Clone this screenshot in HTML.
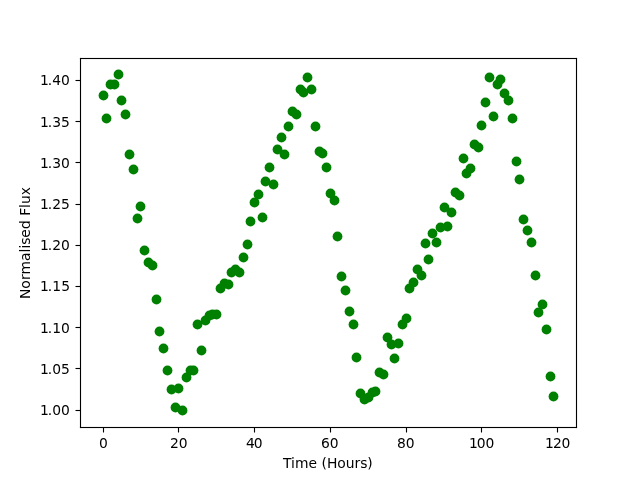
<!DOCTYPE html>
<html lang="en"><head><meta charset="utf-8"><title>Normalised Flux vs Time</title>
<style>
html,body{margin:0;padding:0;background:#fff;}
body{width:640px;height:480px;overflow:hidden;}
svg{display:block;}
text{font-family:"DejaVu Sans","Liberation Sans",sans-serif;font-size:13.889px;fill:#000;white-space:pre;}
</style></head>
<body>
<svg width="640" height="480" viewBox="0 0 640 480">
<rect x="0" y="0" width="640" height="480" fill="#ffffff"/>
<!-- data points -->
<g fill="#008000" stroke="none">
<circle cx="103.5" cy="95.5" r="4.9"/>
<circle cx="106.5" cy="118.5" r="4.9"/>
<circle cx="110.5" cy="84.5" r="4.9"/>
<circle cx="114.5" cy="84.5" r="4.9"/>
<circle cx="118.5" cy="74.5" r="4.9"/>
<circle cx="121.5" cy="100.5" r="4.9"/>
<circle cx="125.5" cy="114.5" r="4.9"/>
<circle cx="129.5" cy="154.5" r="4.9"/>
<circle cx="133.5" cy="169.5" r="4.9"/>
<circle cx="137.5" cy="218.5" r="4.9"/>
<circle cx="140.5" cy="206.5" r="4.9"/>
<circle cx="144.5" cy="250.5" r="4.9"/>
<circle cx="148.5" cy="262.5" r="4.9"/>
<circle cx="152.5" cy="265.5" r="4.9"/>
<circle cx="156.5" cy="299.5" r="4.9"/>
<circle cx="159.5" cy="331.5" r="4.9"/>
<circle cx="163.5" cy="348.5" r="4.9"/>
<circle cx="167.5" cy="370.5" r="4.9"/>
<circle cx="171.5" cy="389.5" r="4.9"/>
<circle cx="175.5" cy="407.5" r="4.9"/>
<circle cx="178.5" cy="388.5" r="4.9"/>
<circle cx="182.5" cy="410.5" r="4.9"/>
<circle cx="186.5" cy="377.5" r="4.9"/>
<circle cx="190.5" cy="370.5" r="4.9"/>
<circle cx="193.5" cy="370.5" r="4.9"/>
<circle cx="197.5" cy="324.5" r="4.9"/>
<circle cx="201.5" cy="350.5" r="4.9"/>
<circle cx="205.5" cy="320.5" r="4.9"/>
<circle cx="209.5" cy="315.5" r="4.9"/>
<circle cx="212.5" cy="314.5" r="4.9"/>
<circle cx="216.5" cy="314.5" r="4.9"/>
<circle cx="220.5" cy="288.5" r="4.9"/>
<circle cx="224.5" cy="283.5" r="4.9"/>
<circle cx="228.5" cy="284.5" r="4.9"/>
<circle cx="231.5" cy="272.5" r="4.9"/>
<circle cx="235.5" cy="269.5" r="4.9"/>
<circle cx="239.5" cy="272.5" r="4.9"/>
<circle cx="243.5" cy="257.5" r="4.9"/>
<circle cx="247.5" cy="244.5" r="4.9"/>
<circle cx="250.5" cy="221.5" r="4.9"/>
<circle cx="254.5" cy="202.5" r="4.9"/>
<circle cx="258.5" cy="194.5" r="4.9"/>
<circle cx="262.5" cy="217.5" r="4.9"/>
<circle cx="265.5" cy="181.5" r="4.9"/>
<circle cx="269.5" cy="167.5" r="4.9"/>
<circle cx="273.5" cy="184.5" r="4.9"/>
<circle cx="277.5" cy="149.5" r="4.9"/>
<circle cx="281.5" cy="137.5" r="4.9"/>
<circle cx="284.5" cy="154.5" r="4.9"/>
<circle cx="288.5" cy="126.5" r="4.9"/>
<circle cx="292.5" cy="111.5" r="4.9"/>
<circle cx="296.5" cy="114.5" r="4.9"/>
<circle cx="300.5" cy="89.5" r="4.9"/>
<circle cx="303.5" cy="92.5" r="4.9"/>
<circle cx="307.5" cy="77.5" r="4.9"/>
<circle cx="311.5" cy="89.5" r="4.9"/>
<circle cx="315.5" cy="126.5" r="4.9"/>
<circle cx="319.5" cy="151.5" r="4.9"/>
<circle cx="322.5" cy="153.5" r="4.9"/>
<circle cx="326.5" cy="167.5" r="4.9"/>
<circle cx="330.5" cy="193.5" r="4.9"/>
<circle cx="334.5" cy="200.5" r="4.9"/>
<circle cx="337.5" cy="236.5" r="4.9"/>
<circle cx="341.5" cy="276.5" r="4.9"/>
<circle cx="345.5" cy="290.5" r="4.9"/>
<circle cx="349.5" cy="311.5" r="4.9"/>
<circle cx="353.5" cy="324.5" r="4.9"/>
<circle cx="356.5" cy="357.5" r="4.9"/>
<circle cx="360.5" cy="393.5" r="4.9"/>
<circle cx="364.5" cy="399.5" r="4.9"/>
<circle cx="368.5" cy="397.5" r="4.9"/>
<circle cx="372.5" cy="392.5" r="4.9"/>
<circle cx="375.5" cy="391.5" r="4.9"/>
<circle cx="379.5" cy="372.5" r="4.9"/>
<circle cx="383.5" cy="374.5" r="4.9"/>
<circle cx="387.5" cy="337.5" r="4.9"/>
<circle cx="391.5" cy="344.5" r="4.9"/>
<circle cx="394.5" cy="358.5" r="4.9"/>
<circle cx="398.5" cy="343.5" r="4.9"/>
<circle cx="402.5" cy="324.5" r="4.9"/>
<circle cx="406.5" cy="318.5" r="4.9"/>
<circle cx="409.5" cy="288.5" r="4.9"/>
<circle cx="413.5" cy="282.5" r="4.9"/>
<circle cx="417.5" cy="269.5" r="4.9"/>
<circle cx="421.5" cy="275.5" r="4.9"/>
<circle cx="425.5" cy="243.5" r="4.9"/>
<circle cx="428.5" cy="259.5" r="4.9"/>
<circle cx="432.5" cy="233.5" r="4.9"/>
<circle cx="436.5" cy="242.5" r="4.9"/>
<circle cx="440.5" cy="227.5" r="4.9"/>
<circle cx="444.5" cy="207.5" r="4.9"/>
<circle cx="447.5" cy="226.5" r="4.9"/>
<circle cx="451.5" cy="212.5" r="4.9"/>
<circle cx="455.5" cy="192.5" r="4.9"/>
<circle cx="459.5" cy="195.5" r="4.9"/>
<circle cx="463.5" cy="158.5" r="4.9"/>
<circle cx="466.5" cy="173.5" r="4.9"/>
<circle cx="470.5" cy="168.5" r="4.9"/>
<circle cx="474.5" cy="144.5" r="4.9"/>
<circle cx="478.5" cy="147.5" r="4.9"/>
<circle cx="481.5" cy="125.5" r="4.9"/>
<circle cx="485.5" cy="102.5" r="4.9"/>
<circle cx="489.5" cy="77.5" r="4.9"/>
<circle cx="493.5" cy="116.5" r="4.9"/>
<circle cx="497.5" cy="84.5" r="4.9"/>
<circle cx="500.5" cy="79.5" r="4.9"/>
<circle cx="504.5" cy="93.5" r="4.9"/>
<circle cx="508.5" cy="100.5" r="4.9"/>
<circle cx="512.5" cy="118.5" r="4.9"/>
<circle cx="516.5" cy="161.5" r="4.9"/>
<circle cx="519.5" cy="179.5" r="4.9"/>
<circle cx="523.5" cy="219.5" r="4.9"/>
<circle cx="527.5" cy="230.5" r="4.9"/>
<circle cx="531.5" cy="242.5" r="4.9"/>
<circle cx="535.5" cy="275.5" r="4.9"/>
<circle cx="538.5" cy="312.5" r="4.9"/>
<circle cx="542.5" cy="304.5" r="4.9"/>
<circle cx="546.5" cy="329.5" r="4.9"/>
<circle cx="550.5" cy="376.5" r="4.9"/>
<circle cx="553.5" cy="396.5" r="4.9"/>
</g>
<!-- axes frame -->
<g fill="#000" stroke="none">
<rect x="79.9445" y="57.9445" width="1.111" height="370.1110"/>
<rect x="575.9445" y="57.9445" width="1.111" height="370.1110"/>
<rect x="79.9445" y="57.9445" width="497.1110" height="1.111"/>
<rect x="79.9445" y="426.9445" width="497.1110" height="1.111"/>
</g>
<!-- ticks -->
<g stroke="#000" stroke-width="1.111" fill="none">
<line x1="103.5" y1="427.5" x2="103.5" y2="432.5"/>
<line x1="178.5" y1="427.5" x2="178.5" y2="432.5"/>
<line x1="254.5" y1="427.5" x2="254.5" y2="432.5"/>
<line x1="330.5" y1="427.5" x2="330.5" y2="432.5"/>
<line x1="406.5" y1="427.5" x2="406.5" y2="432.5"/>
<line x1="481.5" y1="427.5" x2="481.5" y2="432.5"/>
<line x1="557.5" y1="427.5" x2="557.5" y2="432.5"/>
<line x1="80.5" y1="80.5" x2="75.5" y2="80.5"/>
<line x1="80.5" y1="121.5" x2="75.5" y2="121.5"/>
<line x1="80.5" y1="162.5" x2="75.5" y2="162.5"/>
<line x1="80.5" y1="204.5" x2="75.5" y2="204.5"/>
<line x1="80.5" y1="245.5" x2="75.5" y2="245.5"/>
<line x1="80.5" y1="286.5" x2="75.5" y2="286.5"/>
<line x1="80.5" y1="327.5" x2="75.5" y2="327.5"/>
<line x1="80.5" y1="368.5" x2="75.5" y2="368.5"/>
<line x1="80.5" y1="410.5" x2="75.5" y2="410.5"/>
</g>
<!-- labels -->
<g>
<text x="99.08" y="448.00" xml:space="preserve">0</text>
<text x="169.91 178.75" y="448.00" xml:space="preserve">20</text>
<text x="245.91 253.75" y="448.00" xml:space="preserve">40</text>
<text x="320.91 329.75" y="448.00" xml:space="preserve">60</text>
<text x="396.91 405.75" y="448.00" xml:space="preserve">80</text>
<text x="469.00 476.83 485.42" y="448.00" xml:space="preserve">100</text>
<text x="545.00 553.08 561.42" y="448.00" xml:space="preserve">120</text>
<text x="40.08 47.66 52.33 60.91" y="85.00" xml:space="preserve">1.40</text>
<text x="40.08 47.66 52.33 60.91" y="126.50" xml:space="preserve">1.35</text>
<text x="40.08 47.66 52.33 60.91" y="167.50" xml:space="preserve">1.30</text>
<text x="40.08 47.66 52.33 60.91" y="209.00" xml:space="preserve">1.25</text>
<text x="40.08 47.66 52.33 60.91" y="250.00" xml:space="preserve">1.20</text>
<text x="40.08 47.66 52.33 61.16" y="291.00" xml:space="preserve">1.15</text>
<text x="40.08 47.66 52.33 60.91" y="332.50" xml:space="preserve">1.10</text>
<text x="40.08 47.66 52.33 60.91" y="373.50" xml:space="preserve">1.05</text>
<text x="40.08 47.66 52.33 60.91" y="415.00" xml:space="preserve">1.00</text>
<text x="283.07 291.05 294.91 308.44 317.24 321.40 327.07 337.26 345.76 354.56 360.28 367.26" y="468.00" xml:space="preserve">Time (Hours)</text>
<text transform="translate(30.00 243.00) rotate(-90)" x="-56.12 -45.73 -36.98 -31.52 -17.99 -9.48 -5.62 -1.76 5.22 14.02 22.83 27.25 34.99 39.10 47.65" y="0.00" xml:space="preserve">Normalised Flux</text>
</g>
</svg>
</body></html>
